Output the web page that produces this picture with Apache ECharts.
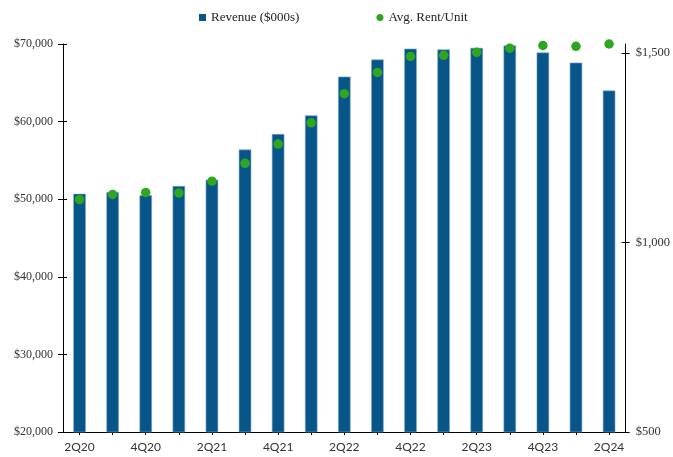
<!DOCTYPE html>
<html>
<head>
<meta charset="utf-8">
<script src="https://cdn.jsdelivr.net/npm/echarts@6/dist/echarts.min.js"></script>
<style>html,body{margin:0;padding:0;background:#fff}#c{width:673px;height:457px}</style>
</head>
<body>
<div id="c"></div>
<script>
const categories = ['2Q20','3Q20','4Q20','1Q21','2Q21','3Q21','4Q21','1Q22','2Q22','3Q22','4Q22','1Q23','2Q23','3Q23','4Q23','1Q24','2Q24'];
const revenue = [50700, 50900, 50500, 51700, 52500, 56400, 58400, 60800, 65800, 68000, 69400, 69300, 69500, 69800, 68900, 67600, 64000];
const rentPerUnit = [1113, 1127, 1132, 1131, 1162, 1209, 1260, 1316, 1393, 1449, 1491, 1494, 1502, 1513, 1520, 1518, 1524];
const leftTicks = [20000, 30000, 40000, 50000, 60000, 70000];
const rightTicks = [500, 1000, 1500];

const serif = '"Liberation Serif","Times New Roman",serif';
const money = v => '$' + Number(v).toLocaleString('en-US');
const axisLine = {show: true, lineStyle: {color: '#000', width: 1}};

const chart = echarts.init(document.getElementById('c'));
chart.setOption({
  animation: false,
  legend: {
    top: 6, left: 194, itemGap: 77, itemWidth: 7, itemHeight: 7,
    itemStyle: {borderWidth: 0},
    textStyle: {fontFamily: serif, fontSize: 13, color: '#222'},
    data: [{name: 'Revenue ($000s)', icon: 'rect'}, {name: 'Avg. Rent/Unit', icon: 'circle'}]
  },
  grid: {left: 63, right: 47, top: 44, bottom: 25},
  xAxis: [{
    type: 'category', data: categories, boundaryGap: true,
    axisLine: axisLine,
    axisTick: {show: true, alignWithLabel: true, interval: 0, length: 3, lineStyle: {color: '#000'}},
    axisLabel: {interval: 1, margin: 9, fontFamily: '"Lato","Noto Sans",sans-serif', fontSize: 12, color: '#333'}
  }, {
    type: 'category', data: categories, boundaryGap: true, position: 'bottom',
    axisLine: {show: false},
    axisTick: {show: true, inside: true, alignWithLabel: true, interval: 0, length: 3, lineStyle: {color: '#000'}},
    axisLabel: {show: false}
  }],
  yAxis: [{
    type: 'value', min: 20000, max: 70000, interval: 10000, position: 'left',
    axisLine: axisLine, splitLine: {show: false},
    axisTick: {show: true, length: 5, lineStyle: {color: '#000'}},
    axisLabel: {margin: 10, formatter: money, fontFamily: serif, fontSize: 12, color: '#333'}
  }, {
    type: 'value', min: 500, max: 1524, position: 'right',
    axisLine: axisLine, splitLine: {show: false},
    axisTick: {show: true, length: 4, customValues: rightTicks, lineStyle: {color: '#000'}},
    axisLabel: {margin: 10, customValues: rightTicks, formatter: money, fontFamily: serif, fontSize: 12.5, color: '#333'}
  }, {
    type: 'value', min: 20000, max: 70000, interval: 10000, position: 'left',
    axisLine: {show: false}, splitLine: {show: false},
    axisTick: {show: true, inside: true, length: 4, lineStyle: {color: '#000'}},
    axisLabel: {show: false}
  }, {
    type: 'value', min: 500, max: 1524, position: 'right',
    axisLine: {show: false}, splitLine: {show: false},
    axisTick: {show: true, inside: true, length: 4, customValues: rightTicks, lineStyle: {color: '#000'}},
    axisLabel: {show: false}
  }],
  series: [{
    name: 'Revenue ($000s)', type: 'bar', data: revenue, yAxisIndex: 0, barWidth: 12.5,
    itemStyle: {color: '#075589', borderColor: '#7ea8c9', borderWidth: 0.6}
  }, {
    name: 'Avg. Rent/Unit', type: 'scatter', data: rentPerUnit, yAxisIndex: 1, symbolSize: 9.5,
    clip: false, z: 5,
    itemStyle: {color: '#2fa61f', opacity: 1}
  }]
});
</script>
</body>
</html>
